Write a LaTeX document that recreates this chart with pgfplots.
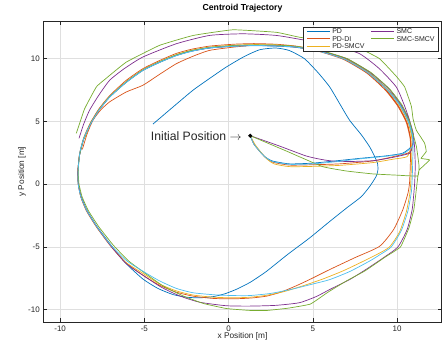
\documentclass[border=0pt]{standalone}
\usepackage{fontspec}
\setmainfont{Liberation Sans}
\usepackage{pgfplots}
\pgfplotsset{compat=1.18}
\definecolor{mBlue}{rgb}{0,0.447,0.741}
\definecolor{mOrange}{rgb}{0.85,0.325,0.098}
\definecolor{mYellow}{rgb}{0.929,0.694,0.125}
\definecolor{mPurple}{rgb}{0.494,0.184,0.556}
\definecolor{mGreen}{rgb}{0.466,0.674,0.188}
\definecolor{mCyan}{rgb}{0.301,0.745,0.933}
\definecolor{axgray}{rgb}{0.15,0.15,0.15}
\newcommand{\legsample}[2]{\textcolor{#1}{\rule[2.0pt]{22.7pt}{0.8pt}}\hspace{2.7pt}\textcolor{axgray}{#2}}
\begin{document}
\begin{tikzpicture}
\begin{axis}[
  scale only axis, width=398.4pt, height=301.3pt,
  at={(0pt,0pt)}, anchor=south west,
  xmin=-11, xmax=12.65, ymin=-11, ymax=13,
  xtick={-10,-5,0,5,10}, ytick={-10,-5,0,5,10},
  tick align=inside, tick pos=both, major tick length=4pt,
  grid=major, major grid style={gray!25, line width=0.5pt},
  axis line style={axgray, line width=0.6pt},
  tick style={axgray, line width=0.6pt},
  tick label style={font=\fontsize{8}{9}\selectfont, text=axgray},
  /pgf/number format/assume math mode=true,
  title={Centroid Trajectory},
  title style={font=\bfseries\fontsize{8.7}{10}\selectfont, at={(axis description cs:0.5,1.021)}, anchor=center},
  xlabel={x Position [m]}, ylabel={y Position [m]},
  xlabel style={font=\fontsize{8.3}{9}\selectfont, text=axgray, at={(axis description cs:0.5,-0.0455)}, anchor=center},
  ylabel style={font=\fontsize{8.3}{9}\selectfont, text=axgray, at={(axis description cs:-0.0535,0.5)}, anchor=center},
  legend columns=2,
  legend cell align=left,
  legend image code/.code={},
  legend style={at={(rel axis cs:0.993,0.980)}, anchor=north east,
    draw=axgray, line width=0.5pt, fill=white,
    font=\fontsize{7}{8}\selectfont,
    inner xsep=2.5pt, inner ysep=0.4pt,
    nodes={inner xsep=1.5pt, inner ysep=0.9pt, text height=4.8pt, text depth=1.2pt},
    /tikz/every even column/.append style={column sep=3.6pt}},
  every axis plot/.append style={smooth, tension=0.35, line width=0.7pt},
]
% PD (blue)
\addplot[mBlue, forget plot] coordinates {
(1.29,3.86) (1.50,3.20) (2.10,2.25) (2.60,1.85) (3.62,1.62) (5.0,1.68) (6.3,1.85) (7.8,2.06) (9.3,2.25) (10.35,2.48) (10.93,3.12)
(10.95,3.9) (10.7,5.0) (10.2,6.3) (9.4,7.6) (8.3,8.9) (6.9,10.0) (5.4,10.6) (4.0,10.9) (2.8,11.0) (1.5,11.05) (0.3,11.0) (-1.13,10.85) (-2.2,10.6) (-3.1,10.26) (-4.1,9.7) (-5.09,9.07) (-6.1,8.1) (-7.06,6.95) (-7.7,5.9) (-8.2,4.8) (-8.6,3.6) (-8.85,2.3) (-8.95,1.0) (-8.92,0.0) (-8.75,-1.0) (-8.4,-2.1) (-7.8,-3.4) (-6.95,-4.9) (-6.1,-6.3) (-5.09,-7.55) (-4.2,-8.3) (-3.3,-8.79) (-2.5,-9.0) (-1.72,-9.05) (-0.9,-8.95)
(-0.2,-8.72) (0.5,-8.35) (1.3,-7.8) (2.24,-6.95) (3.5,-5.6) (4.8,-4.29) (6.0,-2.97) (7.0,-1.9) (7.87,-1.0) (8.37,-0.19) (8.75,0.6) (8.86,1.1) (8.84,1.67) (8.6,2.4) (8.37,2.98) (7.9,3.9) (7.18,5.1) (6.6,6.4) (6.0,7.75) (5.3,8.9) (4.5,10.0) (3.6,10.65) (2.8,10.85) (1.84,10.71) (0.9,10.15) (-0.14,9.33) (-1.1,8.45) (-2.12,7.48) (-3.3,6.15) (-4.49,4.79)
};
% PD-DI (orange)
\addplot[mOrange, forget plot] coordinates {
(1.29,3.86) (1.54,3.12) (2.14,2.19) (2.63,1.75) (3.62,1.52) (5.0,1.55) (6.59,1.62) (8.55,1.85) (9.95,2.25) (10.74,2.55)
(10.82,3.5) (10.6,4.9) (10.1,6.2) (9.35,7.55) (8.3,8.85) (6.9,9.95) (5.4,10.65) (4.0,11.0) (2.8,11.15) (1.5,11.2) (0.3,11.15) (-1.13,11.0) (-2.2,10.75) (-3.1,10.42) (-4.1,9.85) (-5.09,9.2) (-6.1,8.25) (-7.06,7.05) (-7.7,6.0) (-8.2,4.9) (-8.6,3.7) (-8.85,2.4) (-8.95,1.0) (-8.92,0.0) (-8.78,-1.0) (-8.45,-2.1) (-7.85,-3.4) (-7.05,-4.85) (-6.15,-6.2) (-5.09,-7.25) (-4.1,-8.05) (-3.1,-8.6) (-2.1,-8.92) (-0.9,-9.1) (0.26,-9.13) (1.3,-9.07) (2.24,-8.92) (3.1,-8.6) (4.0,-8.1) (4.8,-7.6) (6.0,-6.8) (7.5,-5.85) (8.96,-4.95) (9.8,-3.6) (10.35,-2.0) (10.65,-0.7) (10.74,0.1) (10.78,1.2) (10.8,2.4) (10.78,3.6) (10.55,4.9) (10.05,6.2) (9.3,7.5) (8.2,8.85) (6.8,9.95) (5.3,10.6) (3.9,10.95) (2.6,11.05) (1.4,11.05) (0.3,10.92) (-1.13,10.66) (-2.1,10.2) (-3.1,9.6) (-4.1,8.75) (-5.09,7.88) (-6.07,7.35) (-7.06,6.56) (-7.6,5.9) (-8.05,5.1) (-8.4,4.0) (-8.68,2.78)
};
% PD-SMCV (yellow)
\addplot[mYellow, forget plot] coordinates {
(1.29,3.86) (1.6,3.1) (2.2,2.1) (2.7,1.62) (3.62,1.4) (5.0,1.42) (6.59,1.5) (8.55,1.72) (9.8,2.0) (10.6,2.2) (10.85,3.0)
(10.9,3.8) (10.68,5.0) (10.18,6.3) (9.4,7.6) (8.3,8.9) (6.9,10.0) (5.4,10.65) (4.0,10.97) (2.8,11.1) (1.5,11.12) (0.3,11.07) (-1.13,10.92) (-2.2,10.67) (-3.1,10.33) (-4.1,9.77) (-5.09,9.12) (-6.1,8.15) (-7.06,7.0) (-7.7,5.95) (-8.2,4.85) (-8.6,3.65) (-8.85,2.35) (-8.95,1.0) (-8.92,0.0) (-8.77,-1.0) (-8.43,-2.1) (-7.83,-3.4) (-7.0,-4.87) (-6.12,-6.2) (-5.09,-7.1) (-4.1,-7.95) (-3.1,-8.5) (-2.1,-8.83) (-0.9,-9.0) (0.26,-9.05) (1.3,-9.0) (2.24,-8.85) (3.3,-8.55) (4.4,-8.1) (5.6,-7.55) (6.8,-6.9) (7.9,-6.2) (8.8,-5.6) (9.55,-5.0) (10.15,-3.8) (10.55,-2.2) (10.75,-0.8) (10.82,0.3) (10.85,1.5) (10.88,2.6) (10.88,3.6) (10.65,4.95) (10.15,6.25) (9.38,7.6) (8.3,8.9) (6.9,10.0) (5.4,10.62) (4.0,10.95) (2.8,11.07) (1.5,11.1) (0.3,11.03) (-1.13,10.88) (-2.2,10.62) (-3.1,10.28) (-4.1,9.72) (-5.09,9.09) (-6.1,8.12) (-7.06,6.97) (-7.7,5.92) (-8.2,4.82) (-8.55,3.6)
};
% SMC (purple)
\addplot[mPurple, forget plot] coordinates {
(1.29,3.86) (3.0,3.05) (4.6,2.25) (5.6,1.95) (6.6,1.8) (8.55,1.87) (9.8,2.15) (10.74,2.46) (10.9,2.98)
(10.98,3.9) (10.75,5.0) (10.25,6.3) (9.5,7.6) (8.4,8.9) (7.0,10.0) (5.5,10.6) (4.0,10.93) (2.8,11.02) (1.5,11.05) (0.3,11.0) (-1.13,10.85) (-2.2,10.6) (-3.1,10.26) (-4.1,9.72) (-5.09,9.07) (-6.1,8.1) (-7.06,6.95) (-7.7,5.9) (-8.2,4.8) (-8.6,3.6) (-8.85,2.3) (-8.95,1.0) (-8.92,0.0) (-8.76,-1.0) (-8.42,-2.1) (-7.82,-3.4) (-7.0,-4.9) (-6.1,-6.3) (-5.09,-7.25) (-4.0,-8.2) (-2.9,-8.9) (-1.72,-9.4) (-0.14,-9.68) (1.25,-9.71) (2.8,-9.65) (4.2,-9.44) (5.2,-8.95) (6.0,-8.39) (7.18,-7.6) (8.2,-6.75) (9.2,-5.85) (10.05,-5.0) (10.6,-3.6) (10.9,-2.0) (11.04,0.0) (11.08,1.5) (11.04,2.98) (10.95,4.0) (10.74,5.1) (10.4,6.4) (9.95,7.75) (8.95,9.2) (7.77,10.4) (6.3,11.0) (4.6,11.45) (2.83,11.85) (0.85,11.98) (-1.13,11.85) (-3.1,11.19) (-5.09,10.13) (-6.2,9.2) (-7.06,8.28) (-7.7,7.1) (-8.25,5.9) (-8.6,4.8) (-8.88,3.65)
};
% SMC-SMCV (green)
\addplot[mGreen, forget plot, tension=0.2] coordinates {
(1.29,3.86) (3.5,2.6) (5.58,1.4) (7.0,1.05) (8.55,0.82) (10.0,0.72) (11.23,0.66)
(11.3,1.5) (11.15,3.0) (10.95,4.0) (10.75,5.0) (10.3,6.3) (9.55,7.6) (8.45,8.9) (7.05,10.0) (5.5,10.65) (4.0,10.98) (2.8,11.08) (1.5,11.1) (0.3,11.05) (-1.13,10.9) (-2.2,10.65) (-3.1,10.3) (-4.1,9.75) (-5.09,9.1) (-6.1,8.12) (-7.06,6.97) (-7.7,5.92) (-8.2,4.82) (-8.6,3.62) (-8.85,2.3) (-8.93,1.0) (-8.88,0.0) (-8.7,-1.0) (-8.33,-2.1) (-7.7,-3.4) (-6.85,-4.85) (-5.95,-6.1) (-5.0,-7.05) (-3.9,-8.1) (-2.7,-8.9) (-1.5,-9.5) (-0.14,-9.9) (1.2,-10.05) (2.24,-10.06) (3.5,-9.88) (4.85,-9.55) (5.9,-8.6) (7.0,-7.7) (8.1,-6.9) (9.3,-5.8) (10.2,-5.0) (10.7,-3.5) (11.0,-2.0) (11.18,0.0) (11.3,1.1) (11.93,1.93) (11.43,2.06) (11.73,2.6) (11.63,3.28) (11.14,4.31) (10.95,5.2) (10.85,6.2) (10.45,7.75) (9.95,8.6) (8.96,10.0) (7.8,10.8) (6.6,11.25) (4.2,11.71) (2.83,12.1) (0.26,12.3) (-2.1,11.85) (-4.1,11.06) (-6.07,9.73) (-7.3,8.4) (-7.85,7.75) (-8.55,6.0) (-9.04,4.05)
};
% unlabelled series (cyan)
\addplot[mCyan, forget plot] coordinates {
(1.29,3.86) (1.52,3.15) (2.12,2.22) (2.62,1.8) (3.62,1.58) (5.0,1.62) (6.3,1.78) (7.8,2.02) (9.3,2.22) (10.4,2.45) (10.95,3.1)
(10.92,3.9) (10.68,5.0) (10.18,6.3) (9.36,7.6) (8.25,8.9) (6.85,9.98) (5.35,10.6) (4.0,10.93) (2.8,11.02) (1.5,11.05) (0.3,11.0) (-1.13,10.87) (-2.2,10.6) (-3.1,10.26) (-4.1,9.72) (-5.09,9.07) (-6.1,8.1) (-7.06,6.95) (-7.7,5.9) (-8.2,4.8) (-8.6,3.65) (-8.82,2.6) (-8.93,1.2) (-8.93,0.0) (-8.77,-1.0) (-8.42,-2.1) (-7.82,-3.4) (-6.98,-4.88) (-6.05,-6.1) (-5.09,-6.93) (-4.1,-7.7) (-3.1,-8.3) (-2.1,-8.65) (-0.73,-8.82) (0.3,-8.87) (1.25,-8.87) (2.5,-8.7) (3.8,-8.35) (5.0,-7.95) (6.0,-7.6) (7.2,-6.95) (8.4,-6.1) (9.0,-5.6) (9.65,-5.0) (10.25,-3.7) (10.65,-2.1) (10.85,-0.6) (10.9,0.5) (10.93,1.8) (10.95,3.0) (10.9,3.9) (10.66,5.0) (10.16,6.3) (9.34,7.6) (8.23,8.9) (6.83,9.98) (5.33,10.6) (4.0,10.92) (2.8,11.0) (1.5,11.03) (0.3,10.98) (-1.13,10.85) (-2.2,10.58) (-3.1,10.24) (-4.1,9.7) (-5.09,9.05) (-6.1,8.08) (-7.06,6.93) (-7.7,5.88) (-8.2,4.78) (-8.6,3.6) (-8.82,2.6)
};
% initial position marker
\addplot[only marks, mark=*, mark size=1.6pt, black, forget plot] coordinates {(1.29,3.86)};
\node[anchor=east, inner sep=0pt, font=\fontsize{12.2}{14}\selectfont, text=black!85] at (axis cs:0.78,3.86) {Initial Position $\rightarrow$};
% legend (row-wise, as MATLAB column-wise order)
\addlegendimage{empty legend}\addlegendentry{\legsample{mBlue}{PD}}
\addlegendimage{empty legend}\addlegendentry{\legsample{mPurple}{SMC}}
\addlegendimage{empty legend}\addlegendentry{\legsample{mOrange}{PD-DI}}
\addlegendimage{empty legend}\addlegendentry{\legsample{mGreen}{SMC-SMCV}}
\addlegendimage{empty legend}\addlegendentry{\legsample{mYellow}{PD-SMCV}}
\end{axis}
\pgfresetboundingbox
\path[use as bounding box] (-43.3pt,-20.7pt) rectangle (398.7pt,322.3pt);
\end{tikzpicture}
\end{document}
